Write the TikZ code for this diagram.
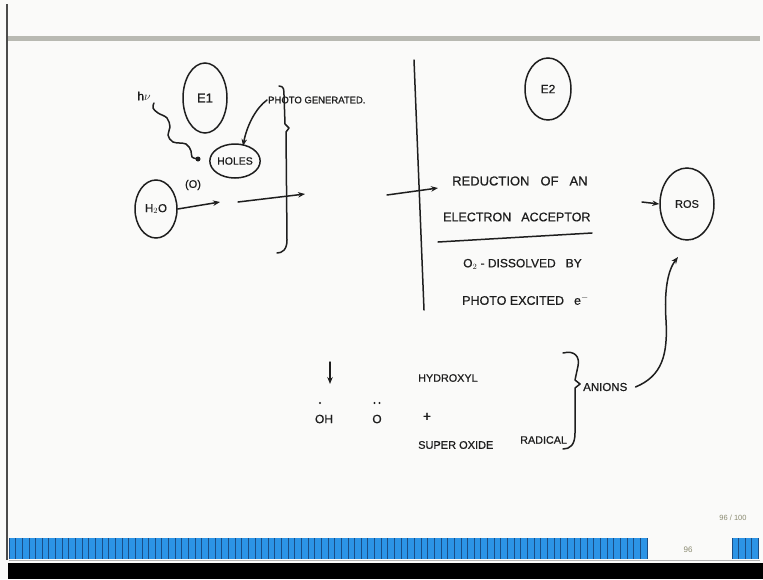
\documentclass[tikz,border=0pt]{standalone}
\usepackage{fontspec}
\setmainfont{Liberation Sans}
\newfontfamily\hwfont{Liberation Sans}[FakeBold=0.7]
\usetikzlibrary{arrows.meta,shapes.geometric}
\definecolor{ink}{HTML}{1E1E1E}
\definecolor{slidebg}{HTML}{FAFAF9}
\definecolor{barblue}{HTML}{2C94E6}
\definecolor{bardiv}{HTML}{1B4E86}
\definecolor{topbar}{HTML}{B8B9B2}
\definecolor{pagegray}{HTML}{8A8A70}
\newcommand{\hws}[1]{\hwfont\fontsize{#1}{#1}\selectfont}
\tikzset{
  hw/.style={text=ink, inner sep=0pt, font=\hws{12.5}},
  pen/.style={draw=ink, line width=1.5pt, line cap=round, line join=round},
  blob/.style={draw=ink, line width=1.5pt, ellipse, inner sep=0pt, text=ink},
  arr/.style={pen, -{Stealth[length=7pt,width=5.5pt]}},
}
\begin{document}
\begin{tikzpicture}[x=1pt,y=-1pt]
\useasboundingbox (0,0) rectangle (763,579);
% slide background and frame
\fill[slidebg] (0,0) rectangle (763,579);
\draw[ink!80, line width=1.2pt] (7,4) -- (7,560);
\fill[topbar] (8,36) rectangle (760,41);
% progress bar
\fill[barblue] (9,538) rectangle (647,559);
\foreach \i in {0,...,96} {\draw[bardiv, line width=0.8pt] ({9+\i*6.646},538) -- ({9+\i*6.646},559);}
\fill[barblue] (732,538) rectangle (758,559);
\foreach \i in {0,...,4} {\draw[bardiv, line width=0.8pt] ({732+\i*6.5},538) -- ({732+\i*6.5},559);}
\draw[gray!60, line width=0.8pt] (9,560) -- (760,560);
\fill[black] (8,563) rectangle (763,579);
\node[text=pagegray, font=\fontsize{8}{9}\selectfont, inner sep=0pt] (num) at (688,550) {96};
\node[text=pagegray, font=\fontsize{7.5}{9}\selectfont, inner sep=0pt] (page) at (733,518) {96 / 100};

% left block
\node[hw, font=\hws{12}] (hv) at (144,96) {h$\nu$};
\node[blob, minimum width=44, minimum height=70, font=\hws{13}] (e1) at (205,98) {E1};
\node[blob, minimum width=50, minimum height=34, font=\hws{10.5}] (holes) at (235,161) {HOLES};
\node[blob, minimum width=42, minimum height=58, font=\hws{11.5}] (h2o) at (156,209) {H$_2$O};
\node[hw, font=\hws{11}] (o) at (193,185) {(O)};
\node[hw, anchor=west, font=\hws{9.5}] (pg) at (268,100) {PHOTO GENERATED.};

\coordinate (hvs) at (154,103);
\coordinate (hvend) at (198,159);
\draw[pen] plot[smooth, tension=0.6] coordinates {(hvs) (153,108) (158,113) (167,118) (170,127) (168,135) (173,142) (186,144) (191,151) (192,157) (hvend)};
\fill[ink] (hvend) circle (2.5pt);

\coordinate (pgarr) at (243,146);
\draw[arr] ([xshift=-1pt]pg.west) .. controls (256,108) and (247,125) .. (pgarr);

% brace 1
\draw[pen] (279,86) .. controls (284,86) and (284,90) .. (284,95) -- (285,124) -- (289,128) -- (286,132) -- (287,240) .. controls (287,250) and (282,253) .. (277,253);

\coordinate (a1e) at (220,202);
\draw[arr] (h2o.east) -- (a1e);
\coordinate (a2s) at (238,202);
\coordinate (a2e) at (305,194);
\draw[arr] (a2s) -- (a2e);

% divider
\coordinate (vtop) at (414,60);
\coordinate (vbot) at (424,310);
\draw[pen] (vtop) -- (vbot);

% right block
\node[blob, minimum width=46, minimum height=62, font=\hws{12}] (e2) at (548,89) {E2};
\node[hw, anchor=west, font=\hws{13}] (red) at (452,181) {REDUCTION\hspace{11pt}OF\hspace{11pt}AN};
\node[hw, anchor=west] (acc) at (443,217) {ELECTRON\hspace{10pt}ACCEPTOR};
\draw[pen] (438,242) -- (592,233);
\node[hw, anchor=west, font=\hws{12}] (o2) at (463,264) {O$_2$ - DISSOLVED\hspace{10pt}BY};
\node[hw, anchor=west] (pe) at (462,300) {PHOTO EXCITED\hspace{10pt}e$^-$};
\coordinate (a3s) at (387,195);
\coordinate (a3e) at (438,188);
\draw[arr] (a3s) -- (a3e);

\node[blob, minimum width=54, minimum height=72, font=\hws{11}] (ros) at (687,204) {ROS};
\coordinate (a4s) at (642,202);
\draw[arr] (a4s) -- (ros.west);

% bottom block
\coordinate (dtop) at (330,362);
\coordinate (dbot) at (330,384);
\draw[arr] (dtop) -- (dbot);
\node[hw, font=\hws{12}] (oh) at (324,419) {OH};
\fill[ink] (320,403) circle (1.1pt);
\node[hw, font=\hws{12}] (oo) at (377,419) {O};
\fill[ink] (374.5,403) circle (1.1pt);
\fill[ink] (379.5,403) circle (1.1pt);
\node[hw, font=\hws{14}] (plus) at (427,417) {+};
\node[hw, anchor=west, font=\hws{10.8}] (hyd) at (418,378) {HYDROXYL};
\node[hw, anchor=west, font=\hws{11}] (sup) at (418,445) {SUPER OXIDE};
\node[hw, anchor=west, font=\hws{10.8}] (rad) at (520,440) {RADICAL};

% brace 2
\draw[pen] (563,353) .. controls (575,350) and (580,357) .. (578,366) -- (575,380) -- (580,384) -- (575,388) -- (575,433) .. controls (575,445) and (570,449) .. (563,449);
\node[hw, anchor=west, font=\hws{11.5}] (an) at (583,387) {ANIONS};
\coordinate (rosin) at (678,257);
\draw[arr] ([xshift=8pt]an.east) .. controls (662,376) and (668,355) .. (666,320) .. controls (664,290) and (668,270) .. (rosin);
\end{tikzpicture}
\end{document}
